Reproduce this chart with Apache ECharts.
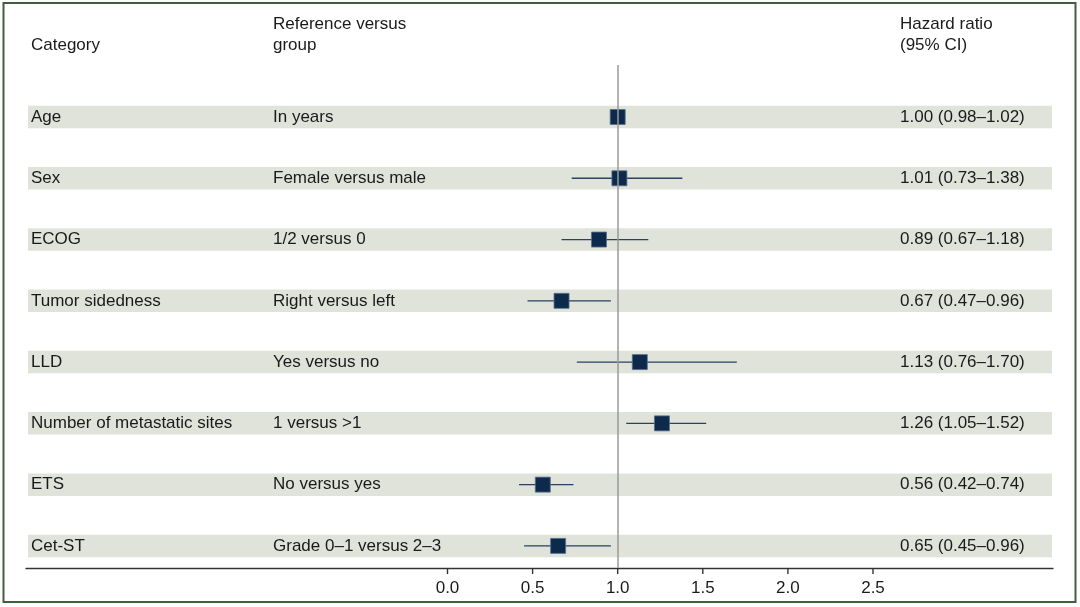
<!DOCTYPE html>
<html>
<head>
<meta charset="utf-8">
<script src="https://cdn.jsdelivr.net/npm/echarts@6/dist/echarts.min.js"></script>
<style>html,body{margin:0;padding:0;background:#fff}#c{width:1080px;height:607px}</style>
</head>
<body>
<div id="c"></div>
<script>
var categories = ['Age','Sex','ECOG','Tumor sidedness','LLD','Number of metastatic sites','ETS','Cet-ST'];
var groups = ['In years','Female versus male','1/2 versus 0','Right versus left','Yes versus no','1 versus >1','No versus yes','Grade 0\u20131 versus 2\u20133'];
var hr = [1.00, 1.01, 0.89, 0.67, 1.13, 1.26, 0.56, 0.65];
var lower = [0.98, 0.73, 0.67, 0.47, 0.76, 1.05, 0.42, 0.45];
var upper = [1.02, 1.38, 1.18, 0.96, 1.70, 1.52, 0.74, 0.96];
var tickValues = [0, 0.5, 1.0, 1.5, 2.0, 2.5];
var headers = {category: 'Category', group: 'Reference versus\ngroup', hr: 'Hazard ratio\n(95% CI)'};

function fmt(v){ return v.toFixed(2); }
var hrText = hr.map(function(v,i){ return fmt(v) + ' (' + fmt(lower[i]) + '\u2013' + fmt(upper[i]) + ')'; });

var FONT = '"Liberation Sans", Arial, Helvetica, sans-serif';
var TXT = '#1a1a1a';
var FS = 17;
var YMAX = 7.3606;

var chart = echarts.init(document.getElementById('c'));
var rows = categories.map(function(c,i){ return i; });

chart.setOption({
  animation: false,
  grid: {left: 26, right: 27, top: 65, bottom: 39},
  xAxis: {
    type: 'value',
    min: -2.4765, max: 3.5576,
    splitLine: {show: false},
    axisLine: {show: true, onZero: false, lineStyle: {color: '#333', width: 1.3}},
    axisTick: {show: false},
    axisLabel: {customValues: tickValues, margin: 12, color: TXT, fontSize: FS, fontFamily: FONT,
      formatter: function(v){ return v.toFixed(1); }}
  },
  yAxis: {type: 'value', inverse: true, min: -0.8486, max: YMAX, show: false},
  graphic: [
    {type: 'rect', shape: {x: 3.5, y: 3, width: 1072, height: 599}, style: {fill: 'none', stroke: '#3f5f3f', lineWidth: 2}, z: 100},
    {type: 'text', x: 31, y: 45, style: {text: headers.category, font: FS + 'px ' + FONT, fill: TXT, verticalAlign: 'middle'}},
    {type: 'text', x: 273, y: 34.5, style: {text: headers.group, font: FS + 'px ' + FONT, fill: TXT, verticalAlign: 'middle', lineHeight: 21}},
    {type: 'text', x: 900, y: 34.5, style: {text: headers.hr, font: FS + 'px ' + FONT, fill: TXT, verticalAlign: 'middle', lineHeight: 21}}
  ],
  series: [
    {
      type: 'custom', z: 1, silent: true,
      data: rows,
      renderItem: function(params, api){
        var y = api.coord([0, api.value(0)])[1];
        var cs = params.coordSys;
        return {type: 'rect', shape: {x: cs.x + 2, y: y - 11.25, width: cs.width - 3, height: 22.5}, style: {fill: '#dfe3da'}};
      }
    },
    {
      type: 'custom', z: 2, silent: true,
      data: rows.map(function(i){ return [i, lower[i], upper[i]]; }),
      renderItem: function(params, api){
        var r = api.value(0);
        var a = api.coord([api.value(1), r]);
        var b = api.coord([api.value(2), r]);
        return {type: 'line', shape: {x1: a[0], y1: a[1], x2: b[0], y2: b[1]}, style: {stroke: '#2a4260', lineWidth: 1.3}};
      }
    },
    {
      type: 'scatter', z: 3, silent: true,
      symbol: 'rect', symbolSize: 15,
      itemStyle: {color: '#0d2a4c', borderColor: '#56708c', borderWidth: 0.8, opacity: 1},
      data: rows.map(function(i){ return [hr[i], i]; })
    },
    {
      type: 'scatter', z: 4, silent: true, data: [],
      markLine: {silent: true, symbol: 'none', label: {show: false},
        lineStyle: {color: '#9a9a9a', width: 1.5, type: 'solid'},
        data: [{xAxis: 1}]}
    },
    {
      // axis ticks: short vertical lines hanging below the baseline
      type: 'scatter', z: 7, silent: true,
      symbol: 'rect', symbolSize: [1.4, 6], symbolOffset: [0, 3],
      itemStyle: {color: '#333', opacity: 1},
      data: tickValues.map(function(v){ return [v, YMAX]; })
    },
    {
      type: 'custom', z: 5, silent: true,
      data: rows,
      renderItem: function(params, api){
        var i = api.value(0);
        var y = api.coord([0, i])[1];
        var f = FS + 'px ' + FONT;
        return {type: 'group', children: [
          {type: 'text', x: 31, y: y, style: {text: categories[i], font: f, fill: TXT, verticalAlign: 'middle'}},
          {type: 'text', x: 273, y: y, style: {text: groups[i], font: f, fill: TXT, verticalAlign: 'middle'}},
          {type: 'text', x: 900, y: y, style: {text: hrText[i], font: f, fill: TXT, verticalAlign: 'middle'}}
        ]};
      }
    }
  ]
});
</script>
</body>
</html>
